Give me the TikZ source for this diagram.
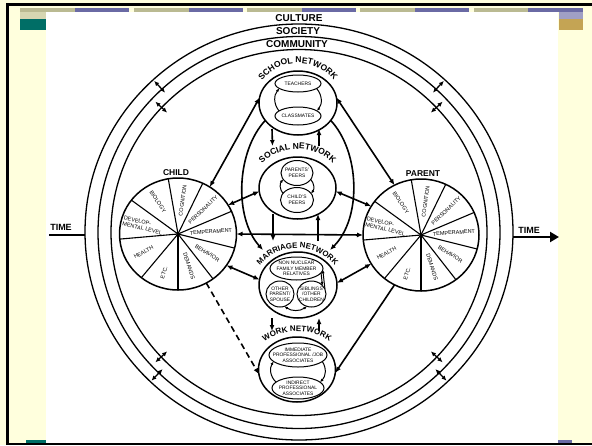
\documentclass[tikz,border=0pt]{standalone}
\usepackage{fontspec}
\setmainfont{Liberation Sans}
\usetikzlibrary{shapes.geometric,arrows.meta,decorations.text,calc}
\definecolor{bgyel}{RGB}{255,255,221}
\definecolor{olivebar}{RGB}{186,186,146}
\definecolor{purplebar}{RGB}{106,106,164}
\definecolor{tealc}{RGB}{0,110,102}
\definecolor{goldc}{RGB}{196,164,84}
\definecolor{paleolive}{RGB}{214,214,178}
\definecolor{palepurple}{RGB}{160,160,196}
\begin{document}
\begin{tikzpicture}[x=1pt,y=1pt,
 ring/.style={draw, ellipse, line width=1.3pt, inner sep=0pt, outer sep=0pt},
 net/.style={draw, ellipse, line width=1.5pt, inner sep=0pt, outer sep=0pt},
 whole/.style={draw, ellipse, line width=1.5pt, inner sep=0pt, outer sep=0pt},
 subell/.style={draw, ellipse, line width=1pt, inner sep=0pt, outer sep=0pt},
 subtxt/.style={align=center, inner sep=0pt, font=\fontsize{4.9}{5.4}\selectfont},
 segtxt/.style={inner sep=0pt, font=\fontsize{5.5}{6.2}\selectfont},
 ringlbl/.style={font=\bfseries\fontsize{10}{10}\selectfont, inner sep=0pt},
 wheellbl/.style={font=\bfseries\fontsize{8.5}{8.5}\selectfont, inner sep=0pt},
 timelbl/.style={font=\bfseries\fontsize{9}{9}\selectfont, inner sep=0pt},
 spoke/.style={line width=1.1pt},
 conn/.style={line width=1.6pt, -{Latex[length=6pt,width=5pt]}},
 bconn/.style={line width=1.6pt, {Latex[length=6pt,width=5pt]}-{Latex[length=6pt,width=5pt]}},
 cyc/.style={line width=1pt, -{Latex[length=3.5pt,width=3pt]}},
 bcyc/.style={line width=1pt, {Latex[length=3.5pt,width=3pt]}-{Latex[length=3.5pt,width=3pt]}},
 dbl/.style={line width=1.3pt, {Latex[length=5pt,width=4.5pt]}-{Latex[length=5pt,width=4.5pt]}},
]
% slide background
\fill[bgyel] (0,0) rectangle (592,-445);
\fill[black] (6,-3) rectangle (592,-6);
\fill[black] (6,-3) rectangle (8.5,-445);
\fill[black] (6,-442.5) rectangle (592,-445);
\foreach \xa/\xb/\c in {20/75/olivebar,75/129/purplebar,134/189/olivebar,189/243/purplebar,247/302/olivebar,302/356/purplebar,360/415/olivebar,415/469/purplebar,474/528/olivebar,528/583/purplebar}
  \fill[\c] (\xa,-8) rectangle (\xb,-11.5);
\fill[paleolive] (20,-11.5) rectangle (46,-19);
\fill[tealc] (20,-19) rectangle (46,-30);
\fill[palepurple] (559,-11.5) rectangle (583,-19);
\fill[goldc] (559,-19) rectangle (583,-30);
\fill[white] (46,-11.5) rectangle (558,-442.5);
\fill[tealc] (26,-440) rectangle (46,-442.5);
\fill[purplebar] (558,-440) rectangle (572,-442.5);

% rings
\node[ring, minimum width=428pt, minimum height=416pt] (culture) at (299,-232) {};
\node[ring, minimum width=402pt, minimum height=392pt] (society) at (299,-232.5) {};
\node[ring, minimum width=376pt, minimum height=366pt] (community) at (299,-232.5) {};
\node[ringlbl] (lcult) at (299,-18) {CULTURE};
\node[ringlbl] (lsoc) at (298,-31) {SOCIETY};
\node[ringlbl] (lcom) at (297,-44) {COMMUNITY};

% ring crossing arrows
\foreach \a/\s in {137/0.88,133/0.955,43/0.88,47/0.955,-137/0.88,-134/0.955,-43/0.88,-46/0.955}
  \draw[dbl] ($(299,-232)+({\s*214*cos(\a)},{\s*208*sin(\a)})+(\a:-8)$) -- ($(299,-232)+({\s*214*cos(\a)},{\s*208*sin(\a)})+(\a:8)$);

% time
\coordinate (tl) at (49,-235);
\coordinate (tr) at (559,-237);
\draw[line width=2.5pt] (tl) -- (tl -| culture.west);
\draw[line width=2.5pt, -{Triangle[length=9pt,width=10pt]}] (tr -| culture.east) -- (tr);
\node[timelbl] (timeL) at (61,-227) {TIME};
\node[timelbl] (timeR) at (529,-230) {TIME};

% wheels
\node[whole, minimum width=117pt, minimum height=112pt] (child) at (178,-234) {};
\node[whole, minimum width=116pt, minimum height=112pt] (parent) at (421,-235) {};
\node[wheellbl] (childlbl) at (176,-173) {CHILD};
\node[wheellbl] (parentlbl) at (423,-174) {PARENT};
\foreach \w in {child,parent}{
  \foreach \a in {100,64,23,-14,-52,-90,-130,-175,144}
    \draw[spoke] (\w.center) -- (\w.\a);
  \fill (\w.center) circle (1.6);
  \node[segtxt, rotate=-56] at ($(\w.center)+(122:38)$) {BIOLOGY};
  \node[segtxt, rotate=82] at ($(\w.center)+(82:34)$) {COGNITION};
  \node[segtxt, rotate=44] at ($(\w.center)+(44:35)$) {PERSONALITY};
  \node[segtxt, rotate=4] at ($(\w.center)+(4:33)$) {TEMPERAMENT};
  \node[segtxt, rotate=-33] at ($(\w.center)+(-33:35)$) {BEHAVIOR};
  \node[segtxt, rotate=-72] at ($(\w.center)+(-71:34)$) {DEMANDS};
  \node[segtxt, rotate=72] at ($(\w.center)+(-110:41)$) {ETC.};
  \node[segtxt, rotate=28] at ($(\w.center)+(-152:39)$) {HEALTH};
  \node[segtxt, rotate=-13, align=left] at ($(\w.center)+(166:36)$) {DEVELOP-\\MENTAL LEVEL};
}

% network circles
\node[net, minimum width=78pt, minimum height=64pt] (school) at (298,-103) {};
\node[net, minimum width=77pt, minimum height=62pt] (social) at (297.5,-188) {};
\node[net, minimum width=78pt, minimum height=66pt] (marriage) at (298,-285) {};
\node[net, minimum width=77pt, minimum height=65pt] (work) at (297,-369.5) {};

\path[decorate, decoration={text along path, text align=center, text={|\bfseries\fontsize{8.5}{8.5}\selectfont|SCHOOL NETWORK}}]
  ($(298,-108)+(150:45)$) arc[start angle=150, end angle=30, radius=45];
\path[decorate, decoration={text along path, text align=center, text={|\bfseries\fontsize{8.5}{8.5}\selectfont|SOCIAL NETWORK}}]
  ($(297.5,-200)+(150:51)$) arc[start angle=150, end angle=30, radius=51];
\path[decorate, decoration={text along path, text align=center, text={|\bfseries\fontsize{7.8}{7.8}\selectfont|MARRIAGE NETWORK}}]
  ($(297.5,-297.5)+(155:49.5)$) arc[start angle=155, end angle=25, radius=49.5];
\path[decorate, decoration={text along path, text align=center, text={|\bfseries\fontsize{8}{8}\selectfont|WORK NETWORK}}]
  ($(297,-390)+(140:58.7)$) arc[start angle=140, end angle=40, radius=58.7];

% sub ellipses
\node[subell, minimum width=46pt, minimum height=17pt] (teachers) at (298,-83.5) {};
\node[subtxt] at (teachers) {TEACHERS};
\node[subell, minimum width=46pt, minimum height=18pt] (classmates) at (298,-116) {};
\node[subtxt] at (classmates) {CLASSMATES};
\node[subell, minimum width=32pt, minimum height=25pt] (ppeers) at (297,-173) {};
\node[subtxt] at (ppeers) {PARENTS'\\PEERS};
\node[subell, minimum width=33pt, minimum height=25pt] (cpeers) at (297,-200) {};
\node[subtxt] at (cpeers) {CHILD'S\\PEERS};
\node[subell, minimum width=53pt, minimum height=23pt] (nonnuc) at (296.5,-268.5) {};
\node[subtxt] at (nonnuc) {NON NUCLEAR\\FAMILY MEMBER\\RELATIVES};
\node[subell, minimum width=28pt, minimum height=26pt] (oparent) at (280,-294) {};
\node[subtxt] at (oparent) {OTHER\\PARENT/\\SPOUSE};
\node[subell, minimum width=29pt, minimum height=26pt] (sibl) at (311.5,-294) {};
\node[subtxt] at (sibl) {SIBLINGS\\/OTHER\\CHILDREN};
\node[subell, minimum width=58pt, minimum height=24pt] (immed) at (298,-355) {};
\node[subtxt] at (immed) {IMMEDIATE\\PROFESSIONAL /JOB\\ASSOCIATES};
\node[subell, minimum width=52pt, minimum height=22pt] (indir) at (298,-388) {};
\node[subtxt] at (indir) {INDIRECT\\PROFESSIONAL\\ASSOCIATES};

% inner cycles
\draw[cyc] (classmates.165) to[bend left=40] (teachers.195);
\draw[cyc] (teachers.-15) to[bend left=40] (classmates.15);
\draw[cyc] (cpeers.155) to[bend left=40] (ppeers.205);
\draw[cyc] (ppeers.-25) to[bend left=40] (cpeers.25);
\draw[cyc] (nonnuc.-10) -- (sibl.38);
\draw[cyc] (sibl.20) -- (nonnuc.-3);
\draw[bcyc] (oparent.-70) to[bend right=35] (sibl.-110);
\draw[cyc] (indir.165) to[bend left=40] (immed.195);
\draw[cyc] (immed.-15) to[bend left=40] (indir.15);

% between networks
\draw[conn] ($(school.south)+(-26,6)$) -- ($(social.north)+(-25,11)$);
\draw[conn] ($(social.north)+(21.5,11)$) -- ($(school.south)+(21,6)$);
\draw[conn] ($(social.south)+(-24.5,5)$) -- ($(marriage.north)+(-25,11)$);
\draw[conn] ($(marriage.north)+(20,11)$) -- ($(social.south)+(20.5,5)$);
\draw[conn] ($(marriage.south)+(-26,0)$) -- ($(work.north)+(-25,6)$);
\draw[conn] ($(work.north)+(22,6)$) -- ($(marriage.south)+(21,0)$);
\draw[conn] (school.208) .. controls (236,-152) and (234,-218) .. ($(marriage.center)+(-35,35)$);
\draw[conn] (school.-28) .. controls (360,-152) and (362,-218) .. ($(marriage.center)+(32,35)$);

% child / parent links
\draw[bconn] (child.56) -- (school.172);
\draw[bconn] (parent.118) -- (school.8);
\draw[bconn] (child.30) -- (social.185);
\draw[bconn] (parent.150) -- (social.-5);
\draw[bconn] (child.east) -- (parent.west);
\draw[bconn] (child.-33) -- (marriage.172);
\draw[bconn] (parent.-150) -- (marriage.3);
\draw[conn, dash pattern=on 6pt off 4pt] (child.-60) -- (work.187);
\draw[conn] (parent.-118) -- (work.-5);
\end{tikzpicture}
\end{document}
